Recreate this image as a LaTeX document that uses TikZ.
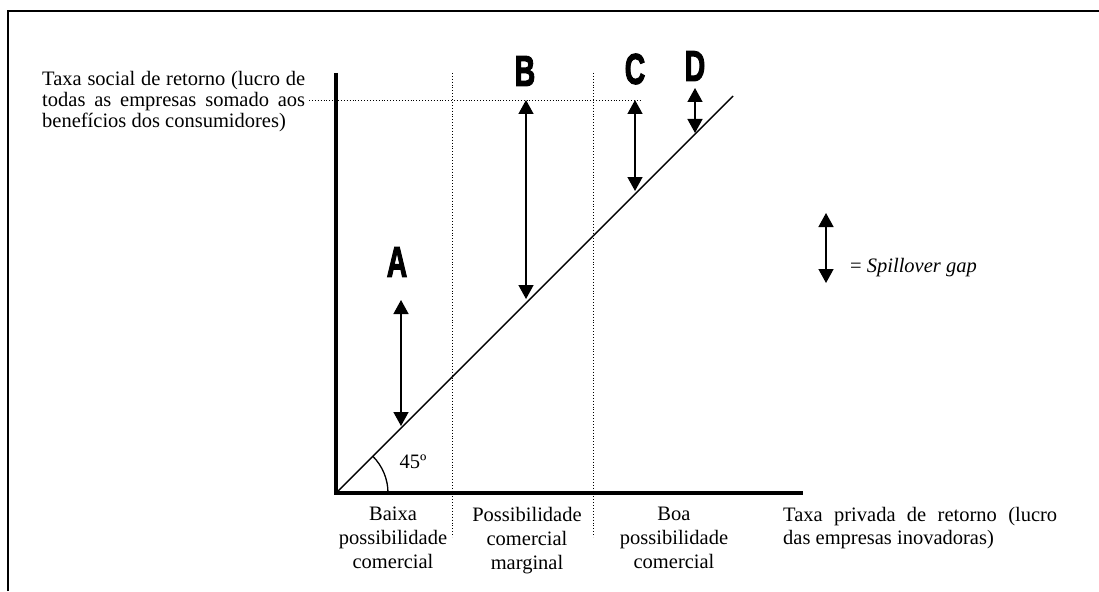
\documentclass[tikz,border=0pt]{standalone}
\usepackage{fontspec}
\setmainfont{Liberation Serif}
\newfontfamily\heavyfont{Liberation Sans}[BoldFeatures={FakeBold=3}]
\usetikzlibrary{arrows.meta}
\begin{document}
\begin{tikzpicture}[x=1pt,y=-1pt,
  gap/.style={line width=1.5pt,{Triangle[width=15pt,length=14pt]}-{Triangle[width=15pt,length=14pt]}},
  axis/.style={line width=3.5pt,line join=miter},
  guide/.style={line width=0.9pt,dotted},
  letter/.style={inner sep=0pt,font=\heavyfont\bfseries\fontsize{43}{43}\selectfont},
  lbl/.style={inner sep=0pt,align=center,font=\fontsize{20.5}{24}\selectfont}]
\useasboundingbox (0,0) rectangle (1099,591);
% frame
\coordinate (fbl) at (8,591);
\coordinate (ftl) at (8,11);
\coordinate (ftr) at (1099,11);
\draw[line width=2pt] (fbl) -- (ftl) -- (ftr);
% axes
\coordinate (O) at (336,493);
\coordinate (ytop) at (336,73);
\coordinate (xend) at (803,493);
\coordinate (dend) at (733,96);
% guides
\coordinate (v1t) at (452,73); \coordinate (v1b) at (452,537);
\coordinate (v2t) at (593,73); \coordinate (v2b) at (593,537);
\coordinate (h1) at (309,100); \coordinate (h2) at (640,100);
\draw[guide] (v1t) -- (v1b);
\draw[guide] (v2t) -- (v2b);
\draw[guide] (h1) -- (h2);
\draw[axis] (ytop) -- (O) -- (xend);
\draw[line width=1.4pt] (O) -- (dend);
\draw[line width=1.3pt] (388,493) arc[start angle=0,end angle=-45,radius=52];
% gap arrows
\coordinate (a1) at (401,300); \coordinate (a2) at (401,426);
\coordinate (b1) at (526,100); \coordinate (b2) at (526,299);
\coordinate (c1) at (635,100); \coordinate (c2) at (635,191);
\coordinate (d1) at (695,88);  \coordinate (d2) at (695,133);
\coordinate (l1) at (826,213); \coordinate (l2) at (826,283);
\draw[gap] (a1) -- (a2);
\draw[gap] (b1) -- (b2);
\draw[gap] (c1) -- (c2);
\draw[gap] (d1) -- (d2);
\draw[gap] (l1) -- (l2);
% letters
\node[letter] (LA) at (397,262) {\scalebox{0.66}[1]{A}};
\node[letter] (LB) at (525,71) {\scalebox{0.66}[1]{B}};
\node[letter] (LC) at (635,69) {\scalebox{0.66}[1]{C}};
\node[letter] (LD) at (695,66) {\scalebox{0.66}[1]{D}};
% labels
\node[inner sep=0pt,font=\fontsize{20.5}{24}\selectfont] (ang) at (413,462) {45º};
\node[inner sep=0pt,anchor=west,font=\fontsize{20.5}{24}\selectfont] (leg) at (850,268) {= \textit{Spillover gap}};
\node[lbl,anchor=north] (low) at (393,507) {Baixa\\possibilidade\\comercial};
\node[lbl,anchor=north] (mid) at (527,507) {Possibilidade\\comercial\\marginal};
\node[lbl,anchor=north] (good) at (674,507) {Boa\\possibilidade\\comercial};
\node[inner sep=0pt,anchor=north west,text width=274pt,align=justify,font=\fontsize{20.5}{23.5}\selectfont] (xlab) at (783,507) {Taxa privada de retorno (lucro\linebreak das empresas inovadoras)};
\node[inner sep=0pt,anchor=north west,text width=263pt,align=justify,font=\fontsize{20.5}{21}\selectfont] (ylab) at (42,71) {Taxa social de retorno (lucro de\linebreak todas as empresas somado aos\linebreak benefícios dos consumidores)};
\end{tikzpicture}
\end{document}
